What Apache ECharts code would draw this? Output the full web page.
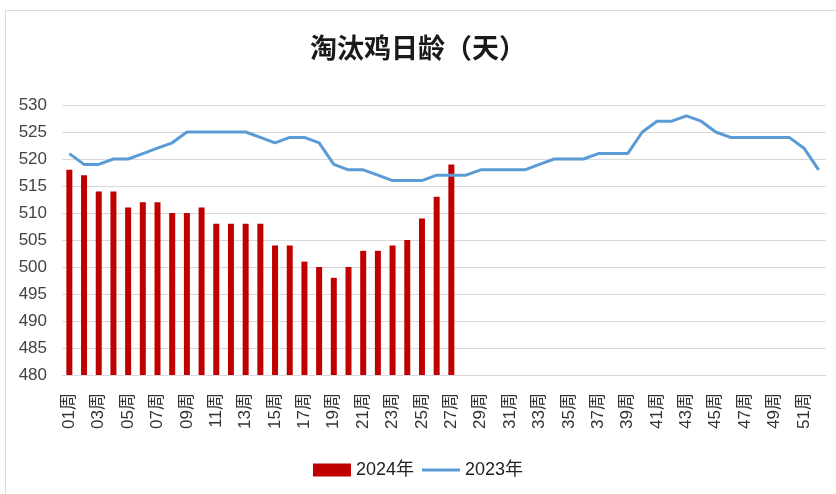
<!DOCTYPE html>
<html><head><meta charset="utf-8">
<script src="https://cdn.jsdelivr.net/npm/echarts@6/dist/echarts.min.js"></script>
<style>html,body{margin:0;padding:0;background:#fff}#c{width:836px;height:494px}</style>
</head><body><div id="c"></div>
<script>
var weeks = [];
for (var i = 1; i <= 52; i++) weeks.push((i < 10 ? '0' + i : '' + i) + '周');
var yTicks = [480, 485, 490, 495, 500, 505, 510, 515, 520, 525, 530];
var s2024 = [518, 517, 514, 514, 511, 512, 512, 510, 510, 511, 508, 508, 508, 508, 504, 504, 501, 500, 498, 500, 503, 503, 504, 505, 509, 513, 519];
var s2023 = [521, 519, 519, 520, 520, 521, 522, 523, 525, 525, 525, 525, 525, 524, 523, 524, 524, 523, 519, 518, 518, 517, 516, 516, 516, 517, 517, 517, 518, 518, 518, 518, 519, 520, 520, 520, 521, 521, 521, 525, 527, 527, 528, 527, 525, 524, 524, 524, 524, 524, 522, 518];
var font = 'Liberation Sans, Arial, Noto Sans CJK SC, sans-serif';
var chart = echarts.init(document.getElementById('c'));
chart.setOption({
  animation: false,
  backgroundColor: '#fff',
  title: {
    text: '淘汰鸡日龄（天）', left: 'center', top: 29,
    textStyle: { fontFamily: 'Noto Sans CJK SC', fontSize: 27, fontWeight: 'bold', color: '#1a1a1a' }
  },
  graphic: [{
    type: 'rect', shape: { x: 5.5, y: 10.5, width: 840, height: 490 },
    style: { fill: 'none', stroke: '#d9d9d9', lineWidth: 1 }, silent: true
  }],
  legend: {
    bottom: 10, left: 'center', itemGap: 8, itemWidth: 38, itemHeight: 13,
    textStyle: { fontFamily: font, fontSize: 18, color: '#222' },
    data: [
      { name: '2024年', icon: 'rect' },
      { name: '2023年', icon: 'path://M0,0H40V3.2H0Z' }
    ]
  },
  grid: { left: 62, right: 10, top: 105, bottom: 119 },
  xAxis: {
    type: 'category', data: weeks, boundaryGap: true,
    axisLine: { lineStyle: { color: '#d9d9d9' } },
    axisTick: { show: false },
    axisLabel: { rotate: 90, interval: 1, fontFamily: font, fontSize: 17, color: '#333', margin: 18 }
  },
  yAxis: {
    type: 'value', min: yTicks[0], max: yTicks[yTicks.length - 1], interval: 5,
    axisLine: { show: false }, axisTick: { show: false },
    axisLabel: { fontFamily: font, fontSize: 17, color: '#444', margin: 15 },
    splitLine: { lineStyle: { color: '#d9d9d9', width: 1 } }
  },
  series: [
    { name: '2024年', type: 'bar', data: s2024, barWidth: 6, itemStyle: { color: '#C00000' } },
    { name: '2023年', type: 'line', data: s2023, symbol: 'none', smooth: false,
      lineStyle: { color: '#5B9BD5', width: 3 }, itemStyle: { color: '#5B9BD5' } }
  ]
});
</script></body></html>
